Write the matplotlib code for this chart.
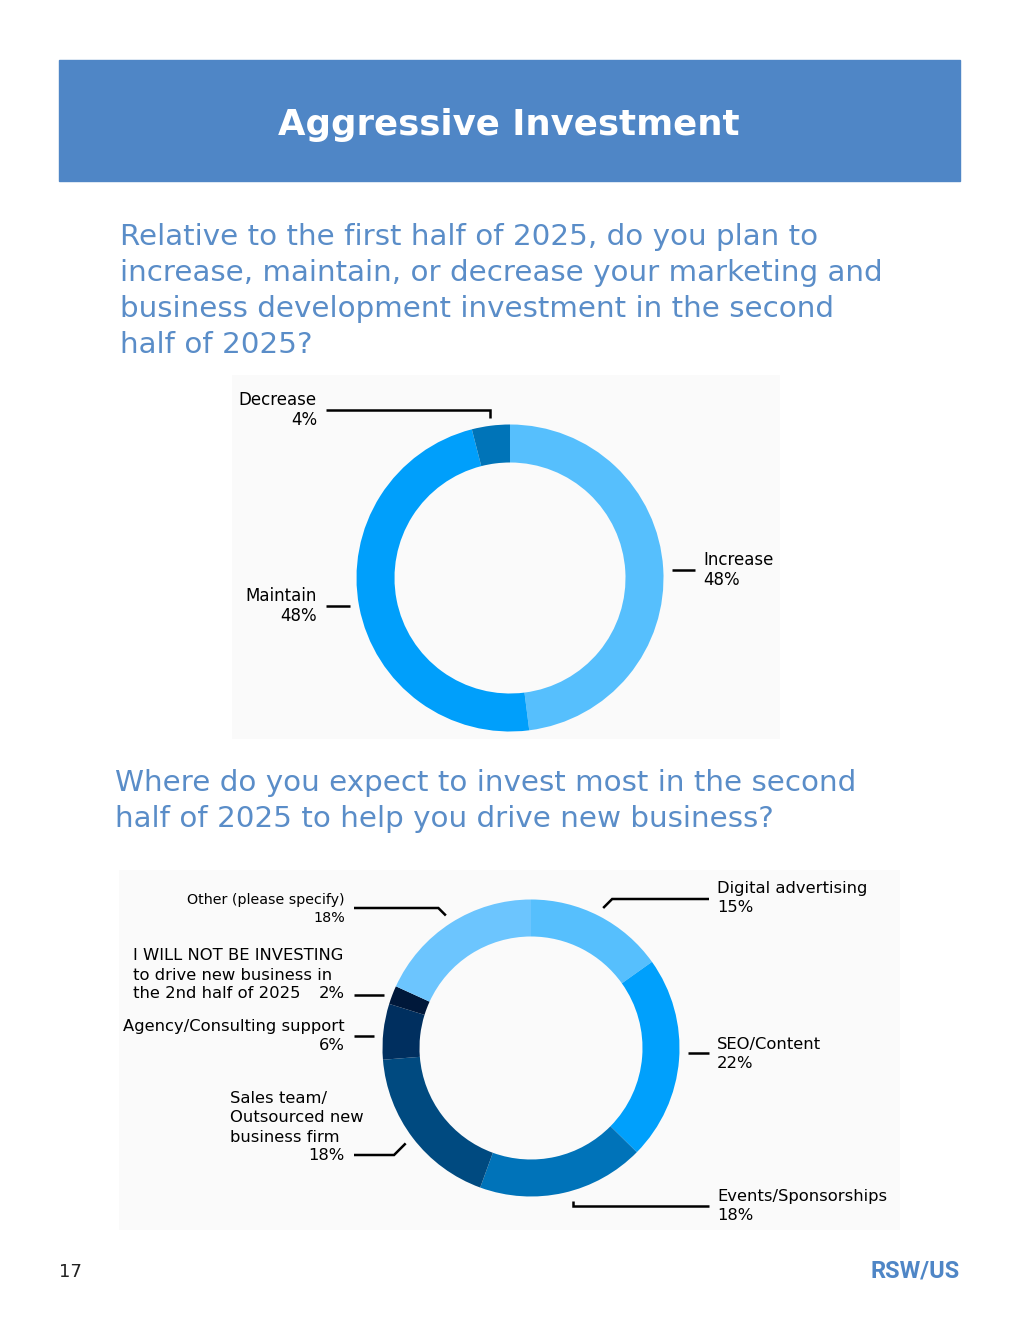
import numpy as np
import matplotlib
matplotlib.use("Agg")
import matplotlib.pyplot as plt
from matplotlib.patches import Rectangle

# ---------------- data ----------------
title = "Aggressive Investment"
question1 = ["Relative to the first half of 2025, do you plan to",
             "increase, maintain, or decrease your marketing and",
             "business development investment in the second",
             "half of 2025?"]
question2 = ["Where do you expect to invest most in the second",
             "half of 2025 to help you drive new business?"]

plan_categories = ["Increase", "Maintain", "Decrease"]
plan_values = [48, 48, 4]
plan_colors = ["#56BFFD", "#009FFB", "#0074B8"]

invest_categories = ["Digital advertising", "SEO/Content", "Events/Sponsorships",
                     "Sales team/\nOutsourced new\nbusiness firm",
                     "Agency/Consulting support",
                     "I WILL NOT BE INVESTING\nto drive new business in\nthe 2nd half of 2025",
                     "Other (please specify)"]
invest_values = [15, 22, 18, 18, 6, 2, 18]
invest_colors = ["#56BFFD", "#00A0FC", "#0073B9", "#004A80", "#002F5F", "#00183A", "#6CC5FE"]

page_number = "17"
brand = "RSW/US"

# ---------------- figure ----------------
W, H = 1020, 1320
fig = plt.figure(figsize=(W / 100, H / 100), dpi=100)
ax = fig.add_axes([0, 0, 1, 1])
FONT = "DejaVu Sans"
QCOL = "#5A8DC8"
HEAD = "#4F86C6"


def Y(y):
    return H - y


# header
ax.add_patch(Rectangle((59, Y(181)), 901, 121, color=HEAD, zorder=1))
ax.text(509, Y(125), title, color="white", fontsize=25.6, fontweight="bold",
        ha="center", va="center", family=FONT, zorder=2)

# questions
QS = 21.2
for i, line in enumerate(question1):
    ax.text(120, Y(237 + 36 * i), line, color=QCOL, fontsize=QS, ha="left",
            va="center", family=FONT)
for i, line in enumerate(question2):
    ax.text(115, Y(783 + 36 * i), line, color=QCOL, fontsize=QS, ha="left",
            va="center", family=FONT)

# light chart backgrounds
ax.add_patch(Rectangle((232, Y(739)), 548, 364, color="#FAFAFA", zorder=0, lw=0))
ax.add_patch(Rectangle((119, Y(1230)), 781, 360, color="#FAFAFA", zorder=0, lw=0))


def donut(values, colors, cx, cy, r, width):
    wedges, _ = ax.pie(values, colors=colors, startangle=90, counterclock=False,
                       center=(cx, Y(cy)), radius=r,
                       wedgeprops=dict(width=width, linewidth=0, antialiased=True))
    for w in wedges:
        w.set_zorder(3)
    tot = float(sum(values))
    mids = []
    acc = 0.0
    for v in values:
        mids.append((acc + v / 2) / tot * 360.0)  # clockwise from top
        acc += v
    return mids


def wedge_point(cx, cy, r, ang):
    a = np.deg2rad(ang)
    return cx + r * np.sin(a), cy - r * np.cos(a)


def leader(cx, cy, r, ang, far_x, line_y, kind="h", lw=1.8):
    px, py = wedge_point(cx, cy, r, ang)
    if kind == "h":
        xs, ys = [far_x, px], [line_y, line_y]
    elif kind == "v":
        xs, ys = [far_x, px, px], [line_y, line_y, py]
    else:  # diagonal
        d = abs(py - line_y)
        ex = px + d if far_x > px else px - d
        xs, ys = [far_x, ex, px], [line_y, line_y, py]
    ax.plot(xs, [Y(v) for v in ys], color="black", lw=lw, solid_capstyle="butt",
            solid_joinstyle="miter", zorder=4)


def label(x, y, text, ha, size, lh):
    for i, ln in enumerate(text.split("\n")):
        ax.text(x, Y(y + lh * i), ln, fontsize=size, ha=ha, va="center", family=FONT)


# ---------- donut 1 ----------
c1x, c1y, r1 = 510, 578, 153.5
mids1 = donut(plan_values, plan_colors, c1x, c1y, r1, 38)
LS = 12
leader(c1x, c1y, r1 + 9, mids1[0], 695, 570, kind="h")
label(703, 560, f"{plan_categories[0]}\n{plan_values[0]}%", "left", LS, 20)
leader(c1x, c1y, r1 + 9, mids1[1], 326, 606, kind="h")
label(317, 596, f"{plan_categories[1]}\n{plan_values[1]}%", "right", LS, 20)
leader(c1x, c1y, r1 + 8, mids1[2], 326, 410, kind="v")
label(317, 400, f"{plan_categories[2]}\n{plan_values[2]}%", "right", LS, 20)

# ---------- donut 2 ----------
c2x, c2y, r2 = 531, 1048, 148.5
mids2 = donut(invest_values, invest_colors, c2x, c2y, r2, 37)
LS2 = 11.8
LH = 19
rl = r2 + 9
# Digital advertising
leader(c2x, c2y, rl, mids2[0], 709, 899, kind="d")
label(717, 889, f"{invest_categories[0]}\n{invest_values[0]}%", "left", LS2, LH)
# SEO/Content
leader(c2x, c2y, rl, mids2[1], 709, 1053, kind="h")
label(717, 1044, f"{invest_categories[1]}\n{invest_values[1]}%", "left", LS2, LH)
# Events/Sponsorships
leader(c2x, c2y, rl + 1, mids2[2] - 2.5, 709, 1206, kind="v")
label(717, 1197, f"{invest_categories[2]}\n{invest_values[2]}%", "left", LS2, LH)
# Sales team
leader(c2x, c2y, rl, mids2[3], 354, 1155, kind="d")
label(230, 1099, invest_categories[3], "left", LS2, LH)
ax.text(345, Y(1155), f"{invest_values[3]}%", fontsize=LS2, ha="right", va="center", family=FONT)
# Agency
leader(c2x, c2y, rl, mids2[4], 354, 1036, kind="h")
label(345, 1026, f"{invest_categories[4]}\n{invest_values[4]}%", "right", LS2, LH)
# I will not
leader(c2x, c2y, rl, mids2[5], 354, 995, kind="h")
label(133, 956, invest_categories[5], "left", LS2, LH)
ax.text(345, Y(994), f"{invest_values[5]}%", fontsize=LS2, ha="right", va="center", family=FONT)
# Other
leader(c2x, c2y, rl, mids2[6], 354, 908, kind="d")
label(345, 900, f"{invest_categories[6]}\n{invest_values[6]}%", "right", 10.3, 18)

# footer
ax.text(59, Y(1272), page_number, fontsize=13, color="#222222", ha="left", va="center", family=FONT)
ax.text(960, Y(1271), brand, fontsize=17, fontweight="bold", color=HEAD, ha="right",
        va="center", family="Roboto")

ax.set_xlim(0, W)
ax.set_ylim(0, H)
ax.set_aspect("auto")
ax.axis("off")
fig.savefig("out.png", dpi=100, facecolor="white")
